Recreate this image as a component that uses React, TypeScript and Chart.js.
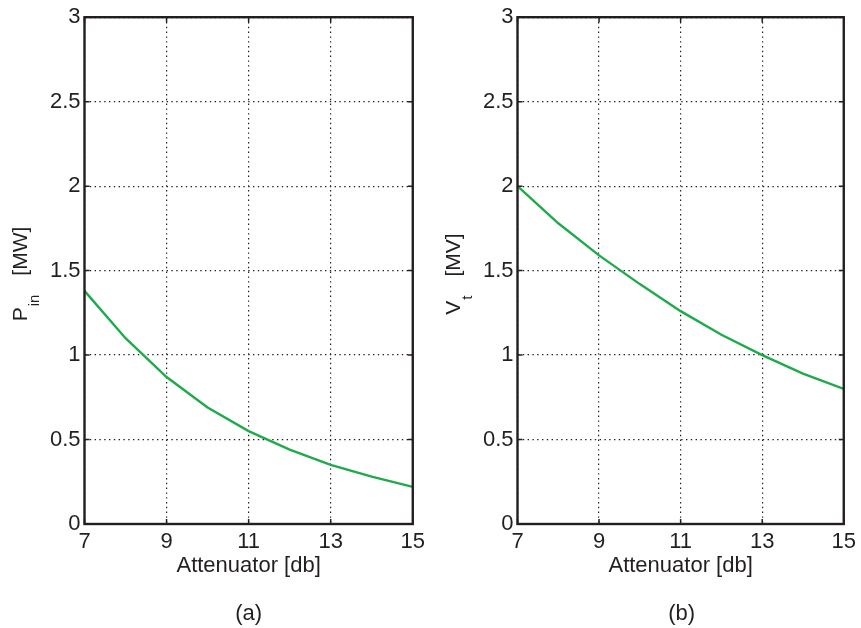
import React, { useEffect, useRef } from 'react';
import { Chart, registerables } from 'chart.js';

Chart.register(...registerables);

// ---- data ----
const attenuatorDb = [7, 8, 9, 10, 11, 12, 13, 14, 15];
const inputPowerMW = [1.38, 1.1, 0.87, 0.69, 0.55, 0.44, 0.35, 0.28, 0.22];
const gapVoltageMV = [2.0, 1.78, 1.59, 1.42, 1.26, 1.12, 1.0, 0.89, 0.8];
const xTickValues = [7, 9, 11, 13, 15];
const yTickValues = [0, 0.5, 1, 1.5, 2, 2.5, 3];
const xTitle = 'Attenuator [db]';
const captions = ['(a)', '(b)'];
const yTitleMain = ['P', 'V'];
const yTitleSub = ['in', 't'];
const yTitleUnit = ['[MW]', '[MV]'];

const FONT = '"Liberation Sans", Arial, Helvetica, sans-serif';
const INK = '#231f20';
const GREEN = '#1faa4b';

type PlotProps = {
  left: number;
  width: number;
  values: number[];
  main: string;
  sub: string;
  unit: string;
  caption: string;
};

function Plot({ left, width, values, main, sub, unit, caption }: PlotProps) {
  const ref = useRef<HTMLCanvasElement | null>(null);

  useEffect(() => {
    if (!ref.current) return;
    const AXIS_W = 84.5;
    const PLOT_RIGHT = 413;
    const HEIGHT = 628;

    const framePlugin = {
      id: 'frame',
      afterDraw(chart: any) {
        const { ctx, chartArea: a, scales } = chart;
        ctx.save();
        ctx.strokeStyle = INK;
        ctx.lineCap = 'butt';
        ctx.lineWidth = 1.5;
        const tl = 5;
        ctx.beginPath();
        xTickValues.forEach((v) => {
          const px = scales.x.getPixelForValue(v);
          ctx.moveTo(px, a.bottom);
          ctx.lineTo(px, a.bottom - tl);
          ctx.moveTo(px, a.top);
          ctx.lineTo(px, a.top + tl);
        });
        yTickValues.forEach((v) => {
          const py = scales.y.getPixelForValue(v);
          ctx.moveTo(a.left, py);
          ctx.lineTo(a.left + tl, py);
          ctx.moveTo(a.right, py);
          ctx.lineTo(a.right - tl, py);
        });
        ctx.stroke();
        ctx.lineWidth = 2.4;
        ctx.strokeRect(a.left, a.top, a.right - a.left, a.bottom - a.top);

        // y axis title with subscript
        const mainSize = 21;
        const subSize = 15;
        ctx.fillStyle = INK;
        ctx.textBaseline = 'alphabetic';
        ctx.textAlign = 'left';
        ctx.font = `${mainSize}px ${FONT}`;
        const wMain = ctx.measureText(main).width;
        const wUnit = ctx.measureText(unit).width;
        ctx.font = `${subSize}px ${FONT}`;
        const wSub = ctx.measureText(sub).width;
        const gap = 20;
        const total = wMain + wSub + gap + wUnit;
        const baseX = 27;
        const centerY = 274;
        ctx.translate(baseX, centerY);
        ctx.rotate(-Math.PI / 2);
        let x0 = -total / 2;
        ctx.font = `${mainSize}px ${FONT}`;
        ctx.fillText(main, x0, 0);
        x0 += wMain;
        ctx.font = `${subSize}px ${FONT}`;
        ctx.fillText(sub, x0 + 1, 12);
        x0 += wSub + gap;
        ctx.font = `${mainSize}px ${FONT}`;
        ctx.fillText(unit, x0, 0);
        ctx.restore();
      },
    };

    const chart = new Chart(ref.current, {
      type: 'line',
      data: {
        datasets: [
          {
            data: attenuatorDb.map((x, i) => ({ x, y: values[i] })),
            borderColor: GREEN,
            borderWidth: 2.4,
            pointRadius: 0,
            tension: 0,
            fill: false,
          },
        ],
      },
      options: {
        responsive: false,
        animation: false,
        events: [],
        layout: { padding: { top: 16, right: width - PLOT_RIGHT, left: 0, bottom: 0 } },
        plugins: { legend: { display: false }, tooltip: { enabled: false }, title: { display: false } },
        scales: {
          x: {
            type: 'linear',
            min: 7,
            max: 15,
            afterBuildTicks: (s: any) => {
              s.ticks = xTickValues.map((v) => ({ value: v }));
            },
            afterFit: (s: any) => {
              s.height = HEIGHT - 524;
            },
            ticks: {
              color: INK,
              font: { family: FONT, size: 22 },
              padding: 5,
              maxRotation: 0,
              autoSkip: false,
              callback: (v: any) => String(v),
            },
            grid: {
              color: INK,
              lineWidth: 1.2,
              drawTicks: false,
              tickLength: 0,
              borderDash: [1.4, 3.4],
            } as any,
            border: { display: false, dash: [1.4, 3.4] },
            title: {
              display: true,
              text: xTitle,
              color: INK,
              font: { family: FONT, size: 22 },
              padding: { top: 0, bottom: 49 },
            },
          },
          y: {
            type: 'linear',
            min: 0,
            max: 3,
            afterBuildTicks: (s: any) => {
              s.ticks = yTickValues.map((v) => ({ value: v }));
            },
            afterFit: (s: any) => {
              s.width = AXIS_W;
            },
            ticks: {
              color: INK,
              font: { family: FONT, size: 22 },
              padding: 4,
              autoSkip: false,
              callback: (v: any) => String(v),
            },
            grid: {
              color: INK,
              lineWidth: 1.2,
              drawTicks: false,
              tickLength: 0,
              borderDash: [1.4, 3.4],
            } as any,
            border: { display: false, dash: [1.4, 3.4] },
            title: { display: false },
          },
        },
      },
      plugins: [framePlugin],
    });
    return () => chart.destroy();
  }, [left, width, values, main, sub, unit]);

  const plotCenter = (84.5 + 413) / 2;
  return (
    <>
      <canvas
        ref={ref}
        width={width}
        height={628}
        style={{ position: 'absolute', left, top: 0, width, height: 628 }}
      />
      <div
        style={{
          position: 'absolute',
          left: left + plotCenter - 60,
          width: 120,
          top: 599,
          height: 28,
          lineHeight: '28px',
          textAlign: 'center',
          fontFamily: FONT,
          fontSize: 22,
          color: INK,
        }}
      >
        {caption}
      </div>
    </>
  );
}

export default function App() {
  return (
    <div
      style={{
        position: 'absolute',
        left: 0,
        top: 0,
        width: 861,
        height: 628,
        background: '#ffffff',
        overflow: 'hidden',
      }}
    >
      <Plot
        left={0}
        width={430}
        values={inputPowerMW}
        main={yTitleMain[0]}
        sub={yTitleSub[0]}
        unit={yTitleUnit[0]}
        caption={captions[0]}
      />
      <Plot
        left={433}
        width={428}
        values={gapVoltageMV}
        main={yTitleMain[1]}
        sub={yTitleSub[1]}
        unit={yTitleUnit[1]}
        caption={captions[1]}
      />
    </div>
  );
}
